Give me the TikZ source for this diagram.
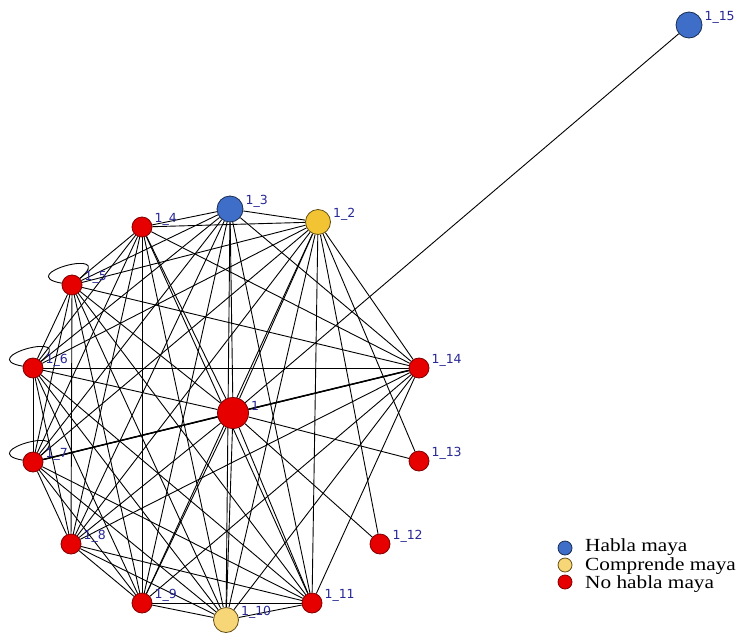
\documentclass[tikz,border=0pt]{standalone}
\usepackage{fontspec}
\setmainfont{Liberation Serif}
\newfontfamily\lblfont{DejaVu Sans}
\usetikzlibrary{backgrounds}

\definecolor{habla}{RGB}{62,110,200}
\definecolor{comprende}{RGB}{242,196,52}
\definecolor{comprendeclaro}{RGB}{246,214,118}
\definecolor{nohabla}{RGB}{230,0,0}
\definecolor{lblblue}{RGB}{40,40,150}

\begin{document}
\begin{tikzpicture}[
  x=1pt, y=-1pt,
  lbl/.style={font=\lblfont\fontsize{12.5}{12.5}\selectfont, text=lblblue, inner sep=1pt},
  actor/.style={circle, inner sep=0pt, line width=0.8pt, label={[lbl, label distance=1pt]3:#1}},
  hablante/.style={actor=#1, fill=habla, draw=habla!40!black, minimum size=26pt},
  comprend/.style={actor=#1, fill=comprende, draw=comprende!40!black, minimum size=25pt},
  nohablante/.style={actor=#1, fill=nohabla, draw=nohabla!55!black, minimum size=20pt},
  tie/.style={draw=black, line width=0.9pt},
  selfloop/.style={draw=black, line width=0.9pt, out=170, in=40, min distance=50pt},
  keydot/.style={circle, inner sep=0pt, minimum size=14pt, line width=0.8pt},
  keytext/.style={anchor=west, font=\fontsize{18.5}{18.5}\selectfont, inner sep=0pt, xscale=1.15, transform shape}
]
\useasboundingbox (0,0) rectangle (746,632);

% actors
\node[hablante=1\_15] (n15) at (689,25) {};
\node[hablante=1\_3] (n3) at (230,209) {};
\node[comprend=1\_2] (n2) at (318,222) {};
\node[nohablante=1\_4] (n4) at (142,227) {};
\node[nohablante=1\_5] (n5) at (72,285) {};
\node[nohablante=1\_6] (n6) at (33,368) {};
\node[nohablante=1\_14] (n14) at (419,368) {};
\node[nohablante=1, minimum size=31pt] (n1) at (233,413) {};
\node[nohablante=1\_7] (n7) at (33,462) {};
\node[nohablante=1\_13] (n13) at (419,461) {};
\node[nohablante=1\_8] (n8) at (71,544) {};
\node[nohablante=1\_12] (n12) at (380,544) {};
\node[nohablante=1\_9] (n9) at (142,603) {};
\node[nohablante=1\_11] (n11) at (312,603) {};
\node[comprend=1\_10, fill=comprendeclaro] (n10) at (226,620) {};

% ties
\begin{scope}[on background layer]
  \foreach \a/\rest in {1/{2,3,4,5,6,7,8,9,10,11,14},
                        2/{3,4,5,6,7,8,9,10,11,14},
                        3/{4,5,6,7,8,9,10,11,14},
                        4/{5,6,7,8,9,10,11,14},
                        5/{6,7,8,9,10,11,14},
                        6/{7,8,9,10,11,14},
                        7/{8,9,10,11,14},
                        8/{9,10,11,14},
                        9/{10,11,14},
                        10/{11,14},
                        11/{14}}
    \foreach \b in \rest
      \draw[tie] (n\a) -- (n\b);
  \draw[tie, line width=1.5pt] (n1) -- (n7);
  \draw[tie, line width=1.5pt] (n1) -- (n14);
  \draw[tie] (n15) -- (n1);
  \draw[tie] (n13) -- (n1);
  \draw[tie] (n13) -- (n2);
  \draw[tie] (n12) -- (n1);
  \draw[tie] (n12) -- (n2);
  \draw[selfloop] (n5) to (n5);
  \draw[selfloop] (n6) to (n6);
  \draw[selfloop] (n7) to (n7);
\end{scope}

% legend
\node[keydot, fill=habla, draw=habla!40!black] (kh) at (565,548) {};
\node[keydot, fill=comprendeclaro, draw=comprende!40!black] (kc) at (565,565) {};
\node[keydot, fill=nohabla, draw=nohabla!55!black] (kn) at (565,582) {};
\node[keytext] at (585,547) {Habla maya};
\node[keytext] at (585,566) {Comprende maya};
\node[keytext] at (585,584) {No habla maya};
\end{tikzpicture}
\end{document}
